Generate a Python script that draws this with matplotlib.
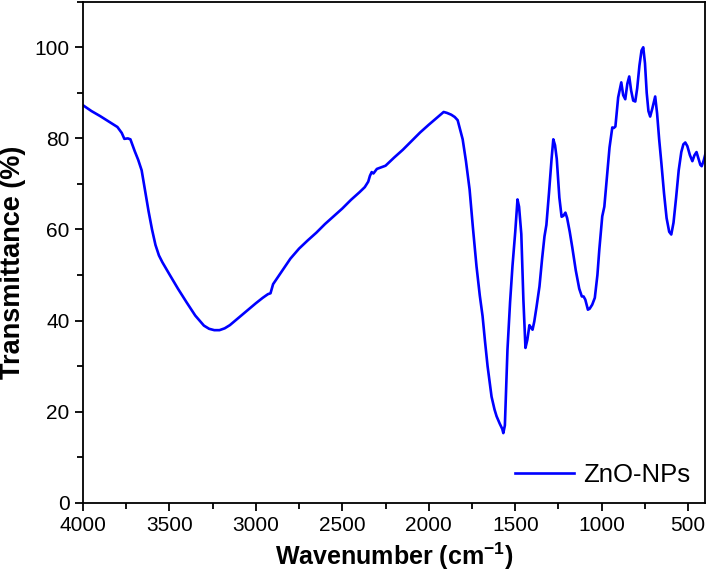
import matplotlib
matplotlib.use('Agg')
import matplotlib.pyplot as plt
from matplotlib.ticker import MultipleLocator

plt.rcParams['font.family'] = ['Liberation Sans', 'DejaVu Sans']

# FTIR spectrum: (wavenumber cm-1, transmittance %)
spectrum_points = [
    (4000, 87.3), (3950, 86.0), (3900, 84.9), (3850, 83.7), (3800, 82.5),
    (3775, 81.2), (3760, 79.9), (3740, 80.0), (3725, 79.8), (3700, 77.2),
    (3680, 75.3), (3660, 73.0), (3640, 68.5), (3620, 64.0), (3600, 60.0),
    (3580, 56.6), (3560, 54.3), (3540, 52.8), (3500, 50.2), (3450, 47.0),
    (3400, 44.0), (3350, 41.1), (3300, 38.9), (3270, 38.2), (3240, 37.9),
    (3210, 37.9), (3180, 38.3), (3150, 39.0), (3100, 40.6), (3050, 42.2),
    (3000, 43.8), (2960, 45.0), (2930, 45.8), (2915, 46.0), (2900, 48.0),
    (2850, 50.8), (2800, 53.6), (2750, 55.8), (2700, 57.6), (2650, 59.3),
    (2600, 61.2), (2550, 62.9), (2500, 64.6), (2450, 66.5), (2400, 68.2),
    (2370, 69.3), (2350, 70.5), (2340, 71.8), (2330, 72.6), (2320, 72.3),
    (2300, 73.3), (2250, 74.0), (2200, 75.8), (2150, 77.5), (2100, 79.4),
    (2050, 81.3), (2000, 83.0), (1960, 84.3), (1930, 85.3), (1914, 85.8),
    (1895, 85.6), (1870, 85.2), (1850, 84.7), (1833, 84.0), (1804, 79.8),
    (1785, 75.0), (1764, 68.8), (1745, 60.5), (1724, 51.9), (1705, 45.5),
    (1689, 41.0), (1675, 35.5), (1660, 30.0), (1637, 23.3), (1620, 20.5),
    (1608, 19.0), (1590, 17.4), (1575, 16.2), (1569, 15.3), (1560, 17.0),
    (1545, 33.6), (1530, 44.0), (1516, 52.0), (1500, 59.5), (1487, 66.6),
    (1478, 65.0), (1465, 59.0), (1453, 44.6), (1441, 34.0), (1430, 35.8),
    (1418, 39.0), (1410, 38.5), (1400, 38.0), (1390, 39.8), (1377, 43.0),
    (1360, 47.5), (1345, 53.5), (1331, 58.5), (1320, 61.0), (1305, 68.0),
    (1290, 75.5), (1280, 79.8), (1270, 78.5), (1260, 75.5), (1245, 67.0),
    (1232, 62.8), (1222, 63.0), (1210, 63.7), (1200, 62.5), (1185, 59.5),
    (1170, 56.0), (1150, 51.0), (1130, 47.0), (1115, 45.3), (1105, 45.3),
    (1095, 44.6), (1080, 42.4), (1070, 42.6), (1055, 43.5), (1040, 45.0),
    (1025, 50.0), (1014, 55.6), (997, 62.9), (985, 65.0), (968, 72.5),
    (955, 78.0), (939, 82.4), (930, 82.3), (921, 82.6), (905, 89.0),
    (887, 92.3), (876, 89.5), (864, 88.6), (852, 92.0), (841, 93.6),
    (830, 90.5), (818, 88.3), (806, 88.1), (795, 91.0), (782, 96.0),
    (770, 99.3), (760, 100.0), (750, 96.5), (740, 90.0), (730, 86.0),
    (720, 84.8), (708, 86.5), (691, 89.2), (680, 85.5), (668, 79.8),
    (655, 74.5), (640, 68.0), (625, 62.5), (610, 59.5), (598, 58.9),
    (585, 61.5), (570, 67.0), (555, 73.0), (540, 77.0), (528, 78.7),
    (517, 79.1), (505, 78.3), (490, 76.3), (476, 75.0), (464, 76.3),
    (452, 77.0), (440, 75.5), (430, 74.2), (422, 73.9), (410, 75.2),
    (398, 77.0),
]
wavenumber = [p[0] for p in spectrum_points]
transmittance = [p[1] for p in spectrum_points]

series_label = 'ZnO-NPs'
x_ticks = [4000, 3500, 3000, 2500, 2000, 1500, 1000, 500]
y_ticks = [0, 20, 40, 60, 80, 100]

fig = plt.figure(figsize=(7.08, 5.86), dpi=100)
ax = fig.add_axes([0.117, 0.142, 0.879, 0.855])

ax.plot(wavenumber, transmittance, color='#0000FF', lw=1.9, label=series_label)

ax.set_xlim(4000, 402)
ax.set_ylim(0, 110)
ax.set_xticks(x_ticks)
ax.set_yticks(y_ticks)
ax.xaxis.set_minor_locator(MultipleLocator(250))
ax.yaxis.set_minor_locator(MultipleLocator(10))
ax.tick_params(which='both', direction='out', top=False, right=False,
               width=1.3, labelsize=15)
ax.tick_params(which='major', length=6)
ax.tick_params(which='minor', length=4)
for sp in ax.spines.values():
    sp.set_linewidth(1.3)

ax.set_xlabel('Wavenumber (cm$^{\\mathregular{-1}}$)', fontsize=18, fontweight='bold')
ax.set_ylabel('Transmittance (%)', fontsize=19.5, fontweight='bold')
ax.yaxis.set_label_coords(-0.092, 0.48)

ax.legend(loc='lower right', frameon=False, fontsize=18.5, handlelength=2.3,
          handletextpad=0.35, borderaxespad=0.2)

fig.savefig('out.png', dpi=100)
